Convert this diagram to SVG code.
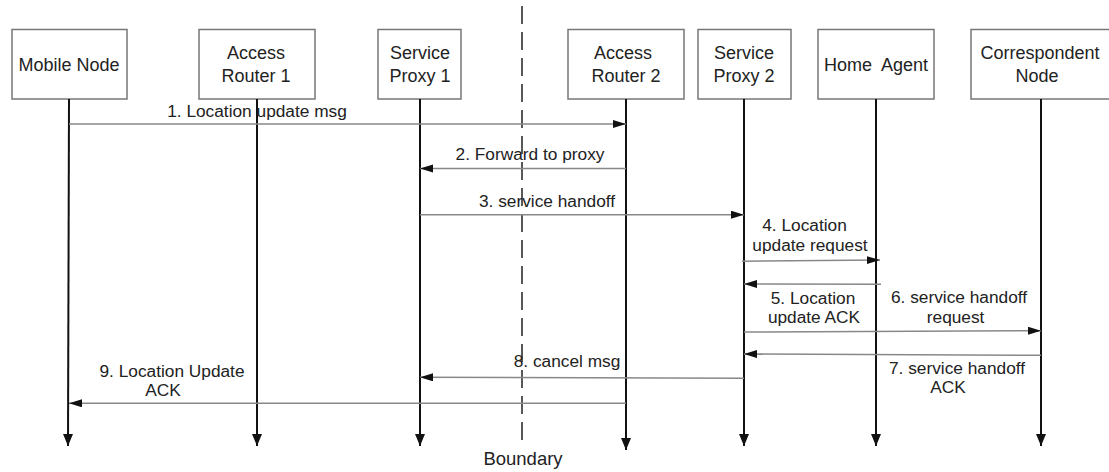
<svg xmlns="http://www.w3.org/2000/svg" width="1109" height="472" viewBox="0 0 1109 472">
<style>
  .box{fill:#fff;stroke:#777;stroke-width:1.5}
  .nt{font-family:"Liberation Sans",Arial,sans-serif;font-size:18px;fill:#222;text-anchor:middle;white-space:pre}
  .mt{font-family:"Liberation Sans",Arial,sans-serif;font-size:17.3px;fill:#222;text-anchor:middle}
  .life{stroke:#111;stroke-width:2;fill:none;marker-end:url(#lh)}
  .msg{stroke:#888;stroke-width:1.5;fill:none;marker-end:url(#mh)}
  .bnd{stroke:#222;stroke-width:1.5;stroke-dasharray:18 8;fill:none}
</style>
<defs>
  <marker id="lh" markerUnits="userSpaceOnUse" markerWidth="13" markerHeight="11" refX="12" refY="5" orient="auto">
    <path d="M0,0 L12,5 L0,10 z" fill="#111"/>
  </marker>
  <marker id="mh" markerUnits="userSpaceOnUse" markerWidth="14" markerHeight="9" refX="13" refY="4" orient="auto">
    <path d="M0,0 L13,4 L0,8 z" fill="#111"/>
  </marker>
</defs>
<rect width="1109" height="472" fill="#fff"/>
<line id="boundary" class="bnd" x1="522" y1="6" x2="522" y2="445"/>
<text class="mt" x="523" y="465" style="font-size:18.5px">Boundary</text>

<g id="mobile-node">
  <rect class="box" x="12" y="29.5" width="115" height="69.5"/>
  <text class="nt" x="69" y="70.7">Mobile Node</text>
  <line class="life" x1="69" y1="99" x2="68" y2="446"/>
</g>
<g id="access-router-1">
  <rect class="box" x="199" y="29.5" width="116" height="69.5"/>
  <text class="nt" x="256" y="59.3">Access</text>
  <text class="nt" x="256" y="81.7">Router 1</text>
  <line class="life" x1="257" y1="99" x2="257" y2="446"/>
</g>
<g id="service-proxy-1">
  <rect class="box" x="378" y="29.5" width="83" height="69.5"/>
  <text class="nt" x="420" y="59.3">Service</text>
  <text class="nt" x="420" y="81.7">Proxy 1</text>
  <line class="life" x1="420" y1="99" x2="420" y2="446"/>
</g>
<g id="access-router-2">
  <rect class="box" x="568" y="29.5" width="116" height="69.5"/>
  <text class="nt" x="623" y="59.3">Access</text>
  <text class="nt" x="626" y="81.7">Router 2</text>
  <line class="life" x1="626" y1="99" x2="626" y2="450"/>
</g>
<g id="service-proxy-2">
  <rect class="box" x="698" y="29.5" width="93" height="69.5"/>
  <text class="nt" x="744" y="59.3">Service</text>
  <text class="nt" x="744" y="81.7">Proxy 2</text>
  <line class="life" x1="744" y1="99" x2="744" y2="446"/>
</g>
<g id="home-agent">
  <rect class="box" x="818" y="29.5" width="116" height="69.5"/>
  <text class="nt" x="876" y="70.7">Home  Agent</text>
  <line class="life" x1="876" y1="99" x2="876" y2="446"/>
</g>
<g id="correspondent-node">
  <rect class="box" x="971" y="29.5" width="140" height="69.5"/>
  <text class="nt" x="1040" y="59.3">Correspondent</text>
  <text class="nt" x="1037" y="81.7">Node</text>
  <line class="life" x1="1041" y1="99" x2="1041" y2="446"/>
</g>

<g id="connectors">
  <line class="msg" x1="69" y1="124" x2="626" y2="124"/>
  <line class="msg" x1="626" y1="168.5" x2="420" y2="168.5"/>
  <line class="msg" x1="420" y1="214.7" x2="744" y2="214.7"/>
  <line class="msg" x1="742" y1="261.3" x2="880" y2="260"/>
  <line class="msg" x1="881" y1="284.3" x2="744" y2="284"/>
  <line class="msg" x1="744" y1="332" x2="1041" y2="330.7"/>
  <line class="msg" x1="1041" y1="355.3" x2="744" y2="354"/>
  <line class="msg" x1="744" y1="378.3" x2="420" y2="377.3"/>
  <line class="msg" x1="626" y1="403.3" x2="69" y2="403.3"/>
</g>

<g id="labels">
  <text class="mt" x="257" y="116.7">1. Location update msg</text>
  <text class="mt" x="530" y="160">2. Forward to proxy</text>
  <text class="mt" x="547" y="206.7">3. service handoff</text>
  <text class="mt" x="804.5" y="231">4. Location</text>
  <text class="mt" x="810" y="250.7">update request</text>
  <text class="mt" x="813" y="304">5. Location</text>
  <text class="mt" x="814" y="323.3">update ACK</text>
  <text class="mt" x="959" y="302.7">6. service handoff</text>
  <text class="mt" x="955.6" y="322.7">request</text>
  <text class="mt" x="957" y="374">7. service handoff</text>
  <text class="mt" x="948" y="393.3">ACK</text>
  <text class="mt" x="567" y="367.3">8. cancel msg</text>
  <text class="mt" x="172" y="376.7">9. Location Update</text>
  <text class="mt" x="163" y="395.7">ACK</text>
</g>
</svg>
